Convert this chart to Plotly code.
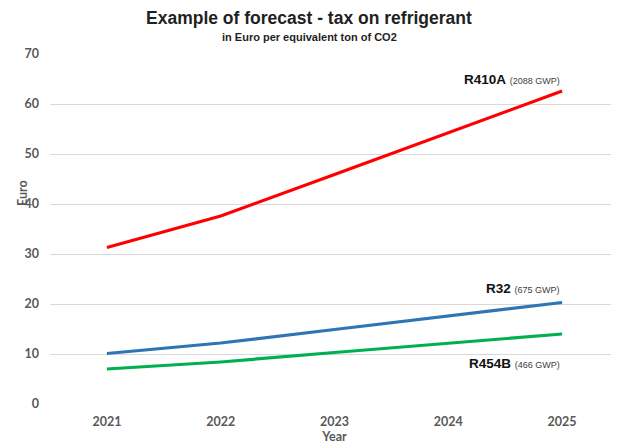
import plotly.graph_objects as go

years = [2021, 2022, 2023, 2024, 2025]
r410a = [31.3, 37.6, 45.9, 54.3, 62.6]
r32 = [10.1, 12.2, 14.9, 17.6, 20.3]
r454b = [7.0, 8.4, 10.3, 12.1, 14.0]
y_ticks = [0, 10, 20, 30, 40, 50, 60, 70]

series = [
    ("R410A", "2088 GWP", r410a, "#FF0000", 65.0),
    ("R32", "675 GWP", r32, "#2E75B6", 23.2),
    ("R454B", "466 GWP", r454b, "#00B050", 8.2),
]

fig = go.Figure()
for name, gwp, vals, color, ylab in series:
    fig.add_trace(go.Scatter(x=years, y=vals, mode="lines", name=name,
                             line=dict(color=color, width=3.2)))
    fig.add_annotation(
        x=years[-1], y=ylab, xref="x", yref="y", xanchor="right", yanchor="middle",
        showarrow=False,
        text=f"<b>{name}</b> <span style='font-size:9px;color:#404040'>({gwp})</span>",
        font=dict(family="Liberation Sans, Arial", size=13.5, color="#111111"),
    )

# plot area: 569 x 350 px; paper y = (396 - fig_px_y) / 350, paper x = (fig_px_x - 42) / 569
title_x = (301 - 42) / 569
fig.add_annotation(
    x=title_x, y=(396 - 10) / 350, xref="paper", yref="paper", xanchor="center", yanchor="middle",
    showarrow=False, text="<b>Example of forecast - tax on refrigerant</b>",
    font=dict(family="Liberation Sans, Arial", size=17.5, color="#1F1F1F"),
)
fig.add_annotation(
    x=title_x, y=(396 - 29) / 350, xref="paper", yref="paper", xanchor="center", yanchor="middle",
    showarrow=False, text="<b>in Euro per equivalent ton of CO2</b>",
    font=dict(family="Liberation Sans, Arial", size=11, color="#1F1F1F"),
)
fig.add_annotation(
    x=(14 - 42) / 569, y=(396 - 185) / 350, xref="paper", yref="paper",
    xanchor="center", yanchor="middle", textangle=-90, showarrow=False,
    text="<b>Euro</b>",
    font=dict(family="Lato, Carlito, sans-serif", size=12.5, color="#595959"),
)

fig.update_layout(
    width=611, height=438,
    margin=dict(l=42, r=0, t=46, b=42),
    paper_bgcolor="white", plot_bgcolor="white",
    showlegend=False,
    xaxis=dict(
        range=[2020.5, 2025.5], tickvals=years, ticktext=[str(y) for y in years],
        showgrid=False, zeroline=False, showline=False, ticks="", ticklabelstandoff=8,
        tickfont=dict(family="Lato, Carlito, sans-serif", size=12.5, color="#595959", weight="bold"),
        title=dict(text="<b>Year</b>", standoff=4,
                   font=dict(family="Lato, Carlito, sans-serif", size=12.5, color="#595959")),
    ),
    yaxis=dict(
        range=[0, 70], tickvals=y_ticks,
        showgrid=True, gridcolor="#D9D9D9", gridwidth=1, zeroline=False, showline=False,
        ticks="", ticklabelstandoff=10,
        tickfont=dict(family="Lato, Carlito, sans-serif", size=12.5, color="#595959", weight="bold"),
    ),
)
fig.write_html("out.html")
